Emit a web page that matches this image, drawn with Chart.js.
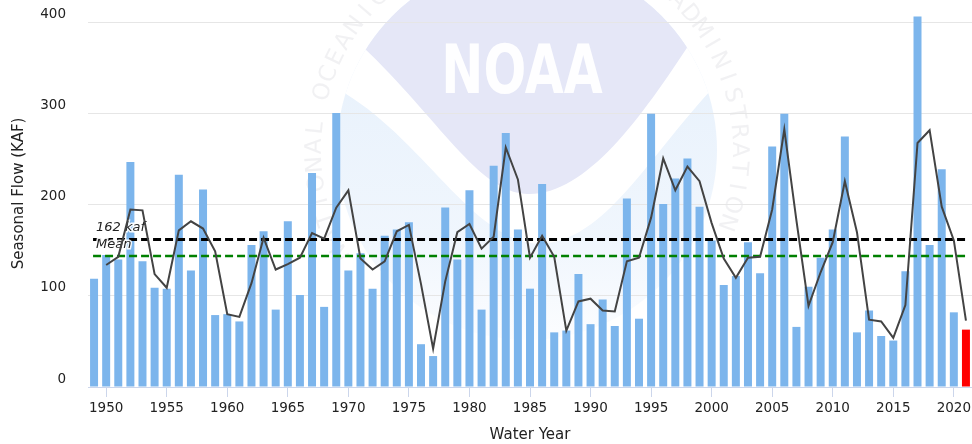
<!DOCTYPE html>
<html>
<head>
<meta charset="utf-8">
<script src="https://cdn.jsdelivr.net/npm/chart.js@4.4.0/dist/chart.umd.min.js"></script>
<style>
html, body { margin: 0; padding: 0; background: #fff; }
#contenedor { width: 972px; height: 444px; position: relative; }
</style>
</head>
<body>
<div id="contenedor"><canvas id="grafica-flujo"></canvas></div>
<script>
// --- Datos ---
const anios = [
  1949, 1950, 1951, 1952, 1953, 1954, 1955, 1956, 1957, 1958, 1959,
  1960, 1961, 1962, 1963, 1964, 1965, 1966, 1967, 1968, 1969,
  1970, 1971, 1972, 1973, 1974, 1975, 1976, 1977, 1978, 1979,
  1980, 1981, 1982, 1983, 1984, 1985, 1986, 1987, 1988, 1989,
  1990, 1991, 1992, 1993, 1994, 1995, 1996, 1997, 1998, 1999,
  2000, 2001, 2002, 2003, 2004, 2005, 2006, 2007, 2008, 2009,
  2010, 2011, 2012, 2013, 2014, 2015, 2016, 2017, 2018, 2019,
  2020, 2021
];

// flujo estacional (KAF) por año
const flujoEstacional = [
  119, 145, 140, 247, 138, 109, 108, 233, 128, 217, 79,
  80, 72, 156, 171, 85, 182, 101, 235, 88, 301,
  128, 147, 108, 166, 173, 181, 47, 34, 197, 140,
  216, 85, 243, 279, 173, 108, 223, 60, 62, 124,
  69, 96, 67, 207, 75, 300, 201, 229, 251, 198,
  161, 112, 122, 159, 125, 264, 300, 66, 110, 142,
  173, 275, 60, 84, 56, 51, 127, 407, 156, 239,
  82, 63
];

// línea suavizada (promedio móvil), sin valor en 1949
const promedioMovil = [
  null, 134, 143, 195, 194, 124, 109, 172, 182, 174, 149,
  80, 77, 114, 164, 129, 135, 142, 169, 163, 197,
  216, 141, 129, 138, 171, 178, 113, 42, 116, 170,
  179, 152, 165, 263, 228, 142, 166, 143, 62, 94,
  97, 84, 83, 138, 142, 186, 251, 216, 242, 226,
  180, 141, 120, 142, 143, 195, 283, 183, 89, 126,
  159, 226, 170, 74, 72, 54, 90, 268, 282, 198,
  161, 73
];

const valorMedia = 162;     // 162 kaf
const valorMediana = 144;   // línea verde
const etiquetasX = [1950, 1955, 1960, 1965, 1970, 1975, 1980, 1985, 1990, 1995, 2000, 2005, 2010, 2015, 2020];
const ticksY = [0, 100, 200, 300, 400];

// colores: el último año (en curso) va en rojo
const colorBarras = anios.map((a, i) => i === anios.length - 1 ? '#ff0000' : '#7cb5ec');

Chart.defaults.font.family = "'DejaVu Sans', Verdana, sans-serif";
Chart.defaults.color = '#222';

// --- Marca de agua NOAA (fondo) ---
function curvaInferior(ctx, dy) {
  // borde inferior de la parte lavanda, de izquierda a derecha
  ctx.moveTo(362, 46 + dy);
  ctx.bezierCurveTo(440, 120 + dy, 478, 192 + dy, 527, 194 + dy);
  ctx.bezierCurveTo(585, 196 + dy, 640, 120 + dy, 692, 40 + dy);
}

const marcaAgua = {
  id: 'marcaAgua',
  beforeDraw(chart) {
    const ctx = chart.ctx;
    const cx = 527, cy = 150, r = 190;
    ctx.save();
    ctx.beginPath();
    ctx.arc(cx, cy, r, 0, Math.PI * 2);
    ctx.clip();
    // círculo inferior, azul muy pálido que se desvanece hacia abajo
    const grad = ctx.createLinearGradient(0, 80, 0, 345);
    grad.addColorStop(0, 'rgb(233, 242, 252)');
    grad.addColorStop(0.6, 'rgb(240, 246, 253)');
    grad.addColorStop(1, 'rgb(252, 253, 255)');
    ctx.fillStyle = grad;
    ctx.fillRect(cx - r, cy - r, 2 * r, 2 * r);
    // banda blanca (ola)
    ctx.beginPath();
    curvaInferior(ctx, -2);
    ctx.lineTo(730, 70);
    ctx.bezierCurveTo(650, 150, 610, 240, 540, 244);
    ctx.bezierCurveTo(470, 242, 420, 130, 330, 85);
    ctx.closePath();
    ctx.fillStyle = '#ffffff';
    ctx.fill();
    // parte superior lavanda
    ctx.beginPath();
    curvaInferior(ctx, 0);
    ctx.lineTo(760, -60);
    ctx.lineTo(300, -60);
    ctx.closePath();
    ctx.fillStyle = 'rgb(229, 231, 247)';
    ctx.fill();
    ctx.restore();

    ctx.save();
    // texto NOAA
    ctx.translate(522, 93);
    ctx.scale(0.74, 1);
    ctx.font = "bold 68px 'DejaVu Sans'";
    ctx.textAlign = 'center';
    ctx.fillStyle = 'rgba(255, 255, 255, 0.95)';
    ctx.fillText('NOAA', 0, 0);
    ctx.restore();

    // texto circular
    ctx.save();
    const texto = 'NATIONAL OCEANIC AND ATMOSPHERIC ADMINISTRATION';
    ctx.font = "23px 'DejaVu Sans'";
    ctx.fillStyle = 'rgba(215, 215, 220, 0.35)';
    ctx.textAlign = 'center';
    ctx.textBaseline = 'middle';
    const inicio = Math.PI * 0.84, fin = Math.PI * 2.11;
    const paso = (fin - inicio) / (texto.length - 1);
    for (let i = 0; i < texto.length; i++) {
      const ang = inicio + paso * i;
      ctx.save();
      ctx.translate(cx + Math.cos(ang) * 212, cy + Math.sin(ang) * 212);
      ctx.rotate(ang + Math.PI / 2);
      ctx.fillText(texto[i], 0, 0);
      ctx.restore();
    }
    ctx.restore();
  }
};

// --- Líneas de referencia (media y verde) sobre las barras ---
function lineaDiscontinua(ctx, x0, x1, y, color, ancho) {
  ctx.save();
  ctx.beginPath();
  ctx.setLineDash([8, 4]);
  ctx.strokeStyle = color;
  ctx.lineWidth = ancho;
  ctx.moveTo(x0, y);
  ctx.lineTo(x1, y);
  ctx.stroke();
  ctx.restore();
}

const lineasReferencia = {
  id: 'lineasReferencia',
  afterDatasetDraw(chart, args) {
    if (args.index !== 1) return; // después de las barras
    const ctx = chart.ctx;
    const x = chart.scales.x, y = chart.scales.y;
    const x0 = x.getPixelForValue(0) - 1;
    const x1 = x.getPixelForValue(anios.length - 1);
    lineaDiscontinua(ctx, x0, x1, y.getPixelForValue(valorMediana), '#008000', 2.5);
    const yMedia = y.getPixelForValue(valorMedia);
    lineaDiscontinua(ctx, x0, x1, yMedia, '#000000', 3);
    // etiqueta
    ctx.save();
    ctx.font = "italic 13px 'DejaVu Sans'";
    ctx.textAlign = 'left';
    ctx.textBaseline = 'middle';
    ctx.lineWidth = 3;
    ctx.strokeStyle = 'rgba(255,255,255,0.9)';
    ctx.fillStyle = '#222';
    ctx.strokeText(valorMedia + ' kaf', x0 + 3, yMedia - 12);
    ctx.fillText(valorMedia + ' kaf', x0 + 3, yMedia - 12);
    ctx.strokeText('Mean', x0 + 3, yMedia + 5);
    ctx.fillText('Mean', x0 + 3, yMedia + 5);
    ctx.restore();
  }
};

const ctx = document.getElementById('grafica-flujo').getContext('2d');
const chartFlujo = new Chart(ctx, {
  type: 'bar',
  data: {
    labels: anios,
    datasets: [
      {
        type: 'line',
        label: 'Promedio móvil',
        data: promedioMovil,
        borderColor: '#434343',
        borderWidth: 2,
        pointRadius: 0,
        tension: 0,
        fill: false
      },
      {
        type: 'bar',
        label: 'Seasonal Flow',
        data: flujoEstacional,
        backgroundColor: colorBarras,
        barPercentage: 0.66,
        categoryPercentage: 1.0
      }
    ]
  },
  options: {
    responsive: true,
    maintainAspectRatio: false,
    animation: false,
    layout: { padding: 0 },
    plugins: {
      legend: { display: false },
      tooltip: { enabled: false }
    },
    scales: {
      x: {
        afterFit: s => { s.height = 57; s.paddingLeft = 0; s.paddingRight = 0; },
        grid: {
          display: true,
          drawOnChartArea: false,
          offset: false,
          drawTicks: true,
          tickLength: 10,
          color: c => etiquetasX.includes(anios[c.index]) ? '#ccd6eb' : 'rgba(0,0,0,0)'
        },
        border: { display: true, color: '#ccd6eb', width: 1 },
        ticks: {
          autoSkip: false,
          maxRotation: 0,
          padding: 3,
          font: { size: 13.5 },
          color: '#222',
          callback: function (v, i) {
            return etiquetasX.includes(anios[i]) ? String(anios[i]) : '';
          }
        },
        title: {
          display: true,
          text: 'Water Year',
          font: { size: 15 },
          color: '#222',
          padding: { top: 0, bottom: 0 }
        }
      },
      y: {
        min: 0,
        max: 425,
        afterFit: s => { s.width = 88; s.paddingTop = 0; s.paddingBottom = 0; },
        afterBuildTicks: s => { s.ticks = s.ticks.filter(t => ticksY.includes(t.value)); },
        grid: { color: '#e6e6e6', drawTicks: false },
        border: { display: false },
        ticks: {
          stepSize: 100,
          padding: 22,
          labelOffset: -8,
          font: { size: 13.5 },
          color: '#222'
        },
        title: {
          display: true,
          text: 'Seasonal Flow (KAF)',
          font: { size: 15 },
          color: '#222',
          padding: { top: 10, bottom: 0 }
        }
      }
    }
  },
  plugins: [marcaAgua, lineasReferencia]
});
</script>
</body>
</html>
